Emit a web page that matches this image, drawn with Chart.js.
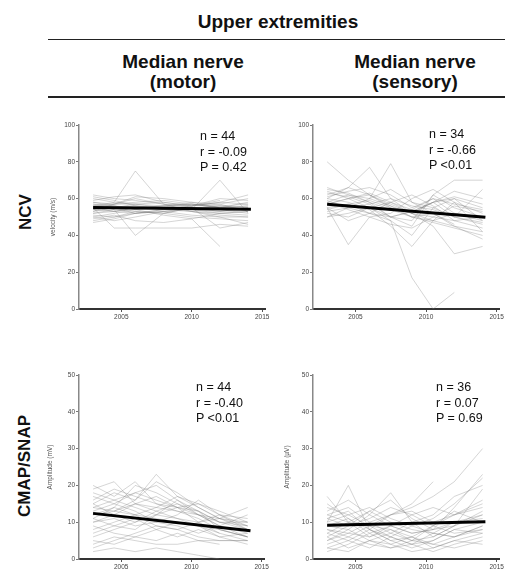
<!DOCTYPE html>
<html><head><meta charset="utf-8">
<script src="https://cdn.jsdelivr.net/npm/chart.js@4"></script>
<style>
html,body{margin:0;padding:0;width:505px;height:571px;overflow:hidden;background:#fff;font-family:"Liberation Sans",Arial,sans-serif;color:#111;}
.hdr{position:absolute;font-weight:bold;font-size:19px;line-height:20px;text-align:center;white-space:nowrap;}
.rule{position:absolute;height:1.6px;background:#222;}
.row{position:absolute;font-weight:bold;font-size:17px;line-height:17px;transform:translate(-50%,-50%) rotate(-90deg);white-space:nowrap;}
.stat{position:absolute;font-size:12.5px;line-height:15.5px;white-space:pre;}
.panel{position:absolute;}
</style></head>
<body>
<div class="hdr" style="left:128px;top:12px;width:300px;">Upper extremities</div>
<div class="rule" style="left:48px;top:38.5px;width:457px;"></div>
<div class="hdr" style="left:93px;top:52px;width:180px;">Median nerve<br>(motor)</div>
<div class="hdr" style="left:325px;top:52px;width:180px;">Median nerve<br>(sensory)</div>
<div class="rule" style="left:48px;top:96px;width:457px;"></div>
<div class="row" style="left:25px;top:212px;">NCV</div>
<div class="row" style="left:24px;top:466px;">CMAP/SNAP</div>

<div class="panel" style="left:40px;top:115px;width:235px;height:215px;"><canvas id="c1" width="235" height="215"></canvas></div>
<div class="panel" style="left:270px;top:115px;width:235px;height:215px;"><canvas id="c2" width="235" height="215"></canvas></div>
<div class="panel" style="left:40px;top:365px;width:230px;height:215px;"><canvas id="c3" width="230" height="215"></canvas></div>
<div class="panel" style="left:270px;top:365px;width:235px;height:215px;"><canvas id="c4" width="235" height="215"></canvas></div>

<div class="stat" style="left:200px;top:129px;">n = 44
r = -0.09
P = 0.42</div>
<div class="stat" style="left:429px;top:127px;">n = 34
r = -0.66
P &lt;0.01</div>
<div class="stat" style="left:196px;top:380px;">n = 44
r = -0.40
P &lt;0.01</div>
<div class="stat" style="left:436px;top:380px;">n = 36
r = 0.07
P = 0.69</div>

<script>
// ---- data ----
const tickYears = [2005, 2010, 2015];
const trendYears = [2003, 2014.2];

// Median nerve (motor) NCV, m/s
const motorNcvYears = [2003, 2004.5, 2006, 2008, 2010, 2012, 2014];
const motorNcv = [
  [56,58,75,57,55,54,55],[52,54,40,52,55,56,54],[60,58,57,56,57,55,58],[54,53,52,53,54,70,52],
  [50,52,54,51,49,34,null],[58,57,61,60,58,57,60],[55,44,44,44,44,46,45],[53,55,56,55,53,52,53],
  [57,56,55,54,56,58,57],[51,50,52,53,51,50,50],[62,60,59,57,56,58,62],[48,50,53,52,50,49,48],
  [55,57,58,59,57,56,55],[56,54,53,52,55,53,54],[59,61,62,58,56,60,59],[52,53,55,56,54,52,51],
  [54,56,54,55,57,55,56],[57,55,52,54,56,57,53],[50,48,50,53,55,54,52],[53,57,60,57,53,50,46],
  [61,59,56,55,54,56,57],[49,51,48,47,49,52,53],[56,57,57,58,56,59,null],[null,55,56,54,55,44,47],
  [55,53,55,56,58,55,56],[58,56,54,56,57,55,54],[47,49,52,54,53,51,50],[54,55,57,55,54,53,55]
];
const motorNcvTrend = [55.1, 54.2];

// Median nerve (sensory) NCV, m/s
const sensoryNcvYears = [2003, 2004.5, 2006, 2007.5, 2009, 2010.5, 2012, 2014];
const sensoryNcv = [
  [80,70,62,55,50,48,52,50],[62,66,77,60,52,58,60,55],[58,62,60,79,58,55,50,46],[55,35,50,52,60,65,58,52],
  [65,63,58,50,45,62,70,70],[52,50,55,48,40,55,60,48],[60,58,54,45,34,48,58,42],[57,60,62,56,50,52,45,38],
  [50,52,55,58,52,45,30,34],[63,61,57,50,48,62,55,50],[55,57,52,48,17,0,9,null],[59,55,52,50,53,58,64,60],
  [54,57,59,55,52,50,48,44],[61,64,66,62,55,60,52,48],[66,62,58,54,50,47,44,40],[53,55,57,60,56,54,50,47],
  [58,54,50,46,44,50,56,53],[64,60,55,50,53,58,61,57],[55,48,52,58,62,56,48,50],[60,66,62,57,52,48,45,42],
  [57,60,63,58,54,60,57,54],[null,null,60,56,52,58,50,65],[50,55,60,65,58,52,46,null]
];
const sensoryNcvTrend = [56.9, 49.8];

// CMAP amplitude, mV
const cmapYears = [2003, 2004.5, 2006, 2007.5, 2009, 2010.5, 2012, 2014];
const cmap = [
  [20,17,21,15,14,12,10,8],[15,18,16,23,17,14,11,9],[12,14,20,18,15,12,9,7],[8,10,12,14,13,11,8,6],
  [3,5,7,9,8,6,5,5],[18,16,14,12,16,13,10,10],[10,12,15,17,14,10,7,5],[14,13,12,11,10,9,6,4],
  [6,8,10,12,11,9,7,null],[16,19,17,15,13,12,11,14],[2,3,2,3,2,1,0,null],[11,9,8,12,14,13,10,9],
  [13,15,13,10,12,16,12,8],[9,7,6,5,7,5,5,5],[17,15,18,20,16,12,9,6],[12,13,15,13,11,10,12,11],
  [7,9,11,8,6,8,6,7],[14,16,18,16,14,15,13,10],[5,4,6,8,10,9,8,6],[19,21,15,14,17,15,12,9],
  [10,11,9,10,9,7,9,12],[15,12,10,13,15,13,8,6],[4,6,5,4,4,5,4,null],[null,13,16,21,18,14,11,8],
  [11,14,12,9,8,10,11,10]
];
const cmapTrend = [12.4, 7.7];

// SNAP amplitude, uV
const snapYears = [2003, 2004.5, 2006, 2007.5, 2009, 2010.5, 2012, 2014];
const snap = [
  [10,20,8,12,14,17,21,30],[17,10,6,9,7,8,14,23],[5,8,12,18,10,6,9,19],[3,2,5,4,6,3,5,7],
  [8,6,4,3,5,9,12,14],[12,14,10,7,5,4,6,9],[6,9,13,10,8,7,10,12],[14,12,9,6,4,2,4,6],
  [2,4,7,9,12,14,12,15],[9,11,8,5,3,5,8,10],[7,5,3,6,9,11,15,22],[11,9,11,14,12,9,7,8],
  [4,6,9,8,6,4,3,5],[13,16,12,9,7,8,10,11],[8,7,10,12,15,21,null,null],[6,3,5,7,10,12,17,20],
  [10,12,14,11,9,7,6,8],[15,11,7,4,2,3,5,4],[5,7,6,8,5,6,9,13],[9,8,5,3,4,7,6,9],
  [12,10,13,16,11,8,9,12],[3,5,8,6,4,5,8,7],[7,10,9,12,13,10,12,16],[11,13,8,5,6,9,13,10]
];
const snapTrend = [9.2, 10.1];

// ---- charts ----
function toPoints(xs, ys){ return ys.map((v,i)=>({x:xs[i], y:v})); }

function makeChart(id, years, subjects, trend, yMax, yStep, yTitle, axisW, titlePad, padRight){
  const datasets = [{
    data: toPoints(trendYears, trend), borderColor:'#000', borderWidth:3,
    pointRadius:0, order:0
  }];
  subjects.forEach(s => datasets.push({
    data: toPoints(years, s), borderColor:'rgba(120,120,120,0.45)', borderWidth:0.7,
    pointRadius:0, spanGaps:true, order:1
  }));
  const tickFont = {family:'"Liberation Sans", Arial, sans-serif', size:6.5};
  new Chart(document.getElementById(id), {
    type:'line',
    data:{datasets},
    options:{
      responsive:false, animation:false, devicePixelRatio:1,
      layout:{padding:{top:10, right:padRight, left:0, bottom:0}},
      plugins:{legend:{display:false}, tooltip:{enabled:false}},
      elements:{line:{tension:0}},
      scales:{
        x:{type:'linear', min:2002, max:2015.2,
          afterBuildTicks: s => { s.ticks = tickYears.map(v=>({value:v})); },
          afterFit: s => { s.height = 21; },
          ticks:{font:tickFont, color:'#444', maxRotation:0, autoSkip:false, padding:1, callback:v=>String(v)},
          grid:{drawOnChartArea:false, drawTicks:true, tickLength:3, color:'#555', lineWidth:1},
          border:{display:true, color:'#333', width:2}
        },
        y:{min:0, max:yMax,
          afterFit: s => { s.width = axisW; },
          ticks:{font:tickFont, color:'#444', stepSize:yStep, padding:1},
          grid:{drawOnChartArea:false, drawTicks:true, tickLength:3, color:'#777', lineWidth:1},
          border:{display:true, color:'#888', width:1.5},
          title:{display: !!yTitle, text: yTitle || '', color:'#555',
            font:{family:'"Liberation Sans", Arial, sans-serif', size:6.5}, padding:{top:titlePad, bottom:0}}
        }
      }
    }
  });
}

makeChart('c1', motorNcvYears, motorNcv, motorNcvTrend, 100, 20, 'velocity (m/s)', 39, 9, 10);
makeChart('c2', sensoryNcvYears, sensoryNcv, sensoryNcvTrend, 100, 20, '', 43, 0, 5);
makeChart('c3', cmapYears, cmap, cmapTrend, 50, 10, 'Amplitude (mV)', 39, 6, 5);
makeChart('c4', snapYears, snap, snapTrend, 50, 10, 'Amplitude (µV)', 43, 13, 5);
</script>
</body></html>
